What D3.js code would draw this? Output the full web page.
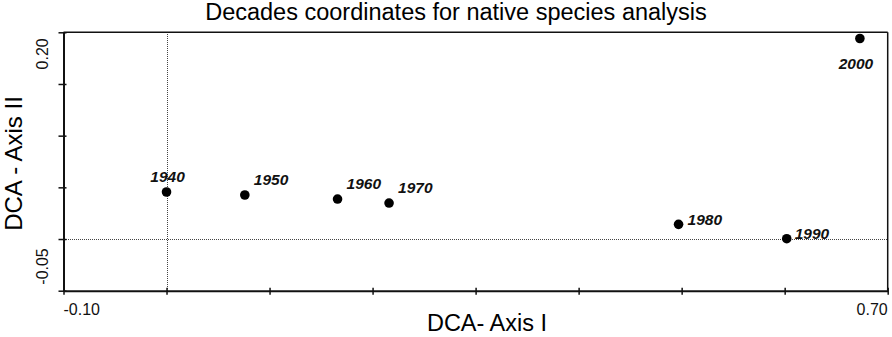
<!DOCTYPE html>
<html>
<head>
<meta charset="utf-8">
<script src="https://cdn.jsdelivr.net/npm/d3@7/dist/d3.min.js"></script>
<style>
  html, body { margin: 0; padding: 0; background: #fff; }
  svg { display: block; font-family: "Liberation Sans", Arial, sans-serif; }
</style>
</head>
<body>
<svg id="chart" width="892" height="337"></svg>
<script>
// ---- data ----
const decades = ["1940", "1950", "1960", "1970", "1980", "1990", "2000"];
const axisI   = [0.000, 0.076, 0.166, 0.216, 0.497, 0.602, 0.673];
const axisII  = [0.0455, 0.0426, 0.0387, 0.0348, 0.0142, 0.0003, 0.194];
const xTicks = [-0.1, 0.0, 0.1, 0.2, 0.3, 0.4, 0.5, 0.6, 0.7];
const yTicks = [-0.05, 0.0, 0.05, 0.10, 0.15, 0.20];
const xTickLabels = ["-0.10", "0.70"];
const yTickLabels = ["-0.05", "0.20"];

const svg = d3.select("#chart");
const L = 63.5, R = 887.7, T = 32.3, B = 290.7;

const x = d3.scaleLinear().domain([-0.1, 0.7]).range([L, R]);
const y = d3.scaleLinear().domain([-0.05, 0.20]).range([B, T]);

// title
svg.append("text").attr("x", 456).attr("y", 19.5).attr("text-anchor", "middle")
  .attr("font-size", 23.5).attr("fill", "#000").text("Decades coordinates for native species analysis");

// reference dotted lines at zero
svg.append("line").attr("x1", Math.round(x(0)) + 0.5).attr("x2", Math.round(x(0)) + 0.5).attr("y1", T).attr("y2", B)
  .attr("stroke", "#444").attr("stroke-width", 1).attr("stroke-dasharray", "1,1").attr("shape-rendering", "crispEdges");
svg.append("line").attr("x1", L).attr("x2", R).attr("y1", Math.round(y(0)) + 0.5).attr("y2", Math.round(y(0)) + 0.5)
  .attr("stroke", "#444").attr("stroke-width", 1).attr("stroke-dasharray", "1,1").attr("shape-rendering", "crispEdges");

// box top/right
svg.append("line").attr("x1", L).attr("x2", R).attr("y1", T).attr("y2", T).attr("stroke", "#111").attr("stroke-width", 1.5);
svg.append("line").attr("x1", R).attr("x2", R).attr("y1", T).attr("y2", B).attr("stroke", "#111").attr("stroke-width", 1.5);

// x axis
const xAxis = d3.axisBottom(x).tickValues(xTicks).tickSizeInner(4).tickSizeOuter(0).tickFormat("");
const gx = svg.append("g").attr("transform", `translate(0,${B})`).call(xAxis);
gx.select(".domain").attr("stroke", "#111").attr("stroke-width", 2);
gx.selectAll(".tick line").attr("stroke", "#111").attr("stroke-width", 1.5).attr("y1", -3).attr("y2", 4);

// y axis
const yAxis = d3.axisLeft(y).tickValues(yTicks).tickSizeInner(5).tickSizeOuter(0).tickFormat("");
const gy = svg.append("g").attr("transform", `translate(${L},0)`).call(yAxis);
gy.select(".domain").attr("stroke", "#111").attr("stroke-width", 2);
gy.selectAll(".tick line").attr("stroke", "#111").attr("stroke-width", 1.5).attr("x1", 3).attr("x2", -5);

// x tick labels (ends only)
svg.append("text").attr("x", x(xTicks[0])).attr("y", 315).attr("text-anchor", "start")
  .attr("font-size", 16).attr("fill", "#111").text(xTickLabels[0]);
svg.append("text").attr("x", x(xTicks[xTicks.length - 1])).attr("y", 315).attr("text-anchor", "end")
  .attr("font-size", 16).attr("fill", "#111").text(xTickLabels[1]);

// y tick labels (ends only, rotated)
svg.append("text").attr("transform", `translate(47.5,${y(yTicks[0]) - 6}) rotate(-90)`)
  .attr("text-anchor", "start").attr("font-size", 16).attr("fill", "#111").text(yTickLabels[0]);
svg.append("text").attr("transform", `translate(47.5,${y(yTicks[yTicks.length - 1]) + 6}) rotate(-90)`)
  .attr("text-anchor", "end").attr("font-size", 16).attr("fill", "#111").text(yTickLabels[1]);

// axis titles
svg.append("text").attr("x", 487).attr("y", 331).attr("text-anchor", "middle")
  .attr("font-size", 23.5).attr("fill", "#000").text("DCA- Axis I");
svg.append("text").attr("transform", `translate(21.5,${(T + B) / 2 + 2}) rotate(-90)`)
  .attr("text-anchor", "middle").attr("font-size", 24).attr("fill", "#000").text("DCA - Axis II");

// points
const pts = decades.map((d, i) => ({ d, xv: axisI[i], yv: axisII[i] }));
svg.selectAll("circle.pt").data(pts).enter().append("circle")
  .attr("cx", p => x(p.xv)).attr("cy", p => y(p.yv)).attr("r", 4.8).attr("fill", "#000");

// label placement
function place(p) {
  if (p.d === "1940") return { dx: 1, dy: -10, anchor: "middle" };
  if (p.d === "2000") return { dx: -4, dy: 30, anchor: "middle" };
  if (p.d === "1980") return { dx: 9, dy: 1, anchor: "start" };
  if (p.d === "1990") return { dx: 8, dy: 0, anchor: "start" };
  return { dx: 9, dy: -10, anchor: "start" };
}
svg.selectAll("text.lbl").data(pts).enter().append("text")
  .attr("class", "lbl")
  .each(function (p) {
    const o = place(p);
    d3.select(this).attr("x", x(p.xv) + o.dx).attr("y", y(p.yv) + o.dy).attr("text-anchor", o.anchor);
  })
  .attr("font-size", 15.5).attr("font-weight", "bold").attr("font-style", "italic").attr("fill", "#111")
  .text(p => p.d);
</script>
</body>
</html>
